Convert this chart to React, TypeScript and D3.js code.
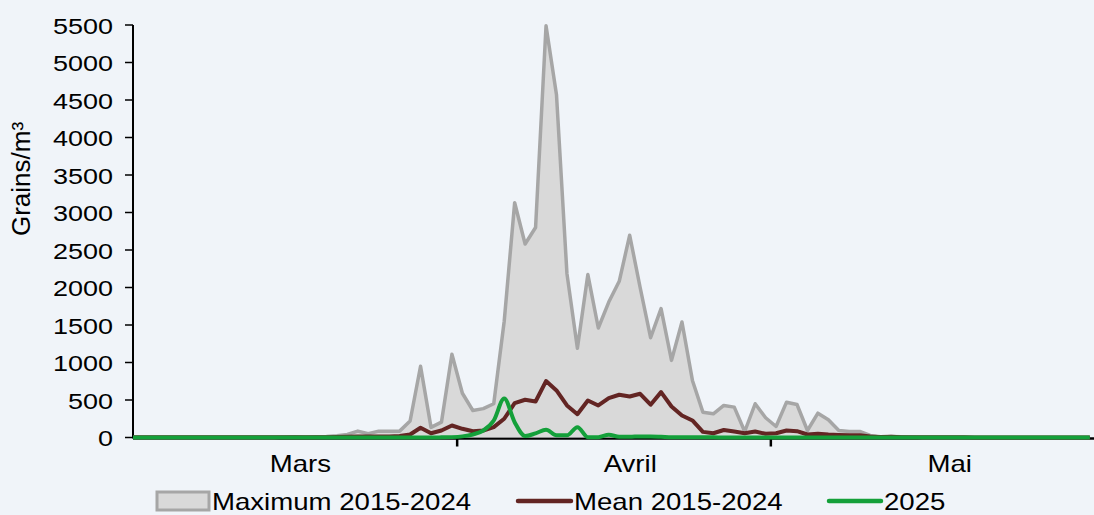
import React from 'react';
import * as d3 from 'd3';

// daily values, 1 March .. 31 May
const maxVals = [
  0, 0, 0, 0, 0, 0, 0, 0, 0, 0, 0, 0, 0, 0, 5, 10, 5, 10, 15, 25, 40,
  85, 50, 85, 85, 85, 220, 950, 135, 205, 1110,
  590, 360, 385, 450, 1550, 3130, 2580, 2800, 5490, 4570, 2185, 1190, 2172, 1460, 1806,
  2083, 2697, 2000, 1331, 1718, 1028, 1540, 761, 338, 316, 427, 405, 80, 450, 263,
  147, 471, 440, 93, 324, 236, 93, 80, 80, 27, 5, 15, 10, 5, 0, 0,
  0, 0, 0, 0, 0, 0, 0, 0, 0, 0, 0, 0, 0, 0, 0,
];
const meanVals = [
  2, 2, 2, 2, 2, 2, 2, 2, 2, 2, 2, 2, 2, 2, 2, 3, 3, 3, 5, 8, 10,
  15, 12, 15, 15, 20, 40, 130, 57, 93, 160,
  116, 84, 93, 138, 250, 458, 503, 480, 752, 627, 427, 310, 494, 427, 525,
  570, 547, 583, 437, 605, 414, 294, 227, 75, 57, 100, 80, 57, 80, 49,
  57, 93, 84, 40, 49, 40, 35, 30, 30, 15, 8, 10, 5, 2, 2, 2,
  2, 2, 2, 1, 1, 1, 1, 1, 1, 1, 1, 1, 1, 1, 1,
];
const vals2025 = [
  0, 0, 0, 0, 0, 0, 0, 0, 0, 0, 0, 0, 0, 0, 0, 0, 0, 0, 0, 0, 0,
  0, 0, 0, 0, 0, 0, 0, 0, 2, 5,
  15, 40, 93, 227, 520, 204, 20, 55, 103, 30, 30, 138, 5, 5, 36,
  10, 10, 15, 15, 10, 3, 3, 2, 2, 2, 1, 1, 0, 0, 0,
  0, 0, 0, 0, 0, 0, 0, 0, 0, 0, 0, 0, 0, 0, 0, 0,
  0, 0, 0, 0, 0, 0, 0, 0, 0, 0, 0, 0, 0, 0, 0,
];
const months = ['Mars', 'Avril', 'Mai'];
const monthStarts = [0, 31, 61, 92];
const yTicks = d3.range(0, 5501, 500);
const seriesNames = ['Maximum 2015-2024', 'Mean 2015-2024', '2025'];

const W = 1094;
const H = 515;
const FONT = 'Liberation Sans, Arial, sans-serif';
const SX = 1.2; // the source chart's text is a bit stretched horizontally

const STxt = ({ x, y, size, anchor = 'start', children }) => (
  <text
    transform={`translate(${x},${y}) scale(${SX},1)`}
    fontSize={size}
    fontFamily={FONT}
    textAnchor={anchor}
    dominantBaseline="central"
    fill="#000"
  >
    {children}
  </text>
);

export default function App() {
  const x = d3.scaleLinear().domain([0, 92]).range([133, 1095]);
  const y = d3.scaleLinear().domain([0, 5500]).range([437.5, 25]);
  const px = (_, i) => (i === 0 ? x(0) : x(i + 0.5));

  const area = d3.area().x(px).y0(y(0)).y1((d) => y(d));
  const line = d3.line().x(px).y((d) => y(d));
  const smooth = d3.line().x(px).y((d) => y(d)).curve(d3.curveMonotoneX);

  return (
    <svg
      width={W}
      height={H}
      style={{ position: 'absolute', left: 0, top: 0, background: '#F0F4F9' }}
    >
      <rect width={W} height={H} fill="#F0F4F9" />

      {/* y axis */}
      <line x1={133} x2={133} y1={y(5500)} y2={y(0) + 1} stroke="#000" strokeWidth={2} />
      {yTicks.map((t) => (
        <g key={t}>
          <line x1={125} x2={133} y1={y(t)} y2={y(t)} stroke="#000" strokeWidth={1.5} />
          <STxt x={113} y={y(t) + 1} size={22.5} anchor="end">
            {t}
          </STxt>
        </g>
      ))}
      <text
        transform={`translate(21,${179}) rotate(-90)`}
        fontSize={26}
        fontFamily={FONT}
        textAnchor="middle"
        dominantBaseline="central"
      >
        Grains/m³
      </text>

      {/* x axis */}
      <line x1={133} x2={W} y1={y(0) + 1} y2={y(0) + 1} stroke="#000" strokeWidth={2.5} />
      {monthStarts.slice(1, 3).map((m) => (
        <line key={m} x1={x(m)} x2={x(m)} y1={y(0)} y2={y(0) + 9} stroke="#000" strokeWidth={2.5} />
      ))}
      {months.map((m, i) => (
        <STxt key={m} x={x(monthStarts[i] + 16 + i * 0.55)} y={464} size={23} anchor="middle">
          {m}
        </STxt>
      ))}

      {/* series */}
      <path d={area(maxVals)} fill="#D9D9D9" />
      <path d={line(maxVals)} fill="none" stroke="#A6A6A6" strokeWidth={3.5} strokeLinejoin="round" />
      <path d={line(meanVals)} fill="none" stroke="#632523" strokeWidth={4} strokeLinejoin="round" />
      <path d={smooth(vals2025)} fill="none" stroke="#14A03A" strokeWidth={4} strokeLinejoin="round" />

      {/* legend */}
      <rect x={157} y={492} width={52} height={18} fill="#D9D9D9" stroke="#A6A6A6" strokeWidth={3} />
      <STxt x={212} y={502} size={23}>{seriesNames[0]}</STxt>
      <line x1={518} x2={571} y1={501} y2={501} stroke="#632523" strokeWidth={4.5} strokeLinecap="round" />
      <STxt x={574} y={502} size={23}>{seriesNames[1]}</STxt>
      <line x1={829} x2={881} y1={501} y2={501} stroke="#14A03A" strokeWidth={4.5} strokeLinecap="round" />
      <STxt x={884} y={502} size={23}>{seriesNames[2]}</STxt>
    </svg>
  );
}
